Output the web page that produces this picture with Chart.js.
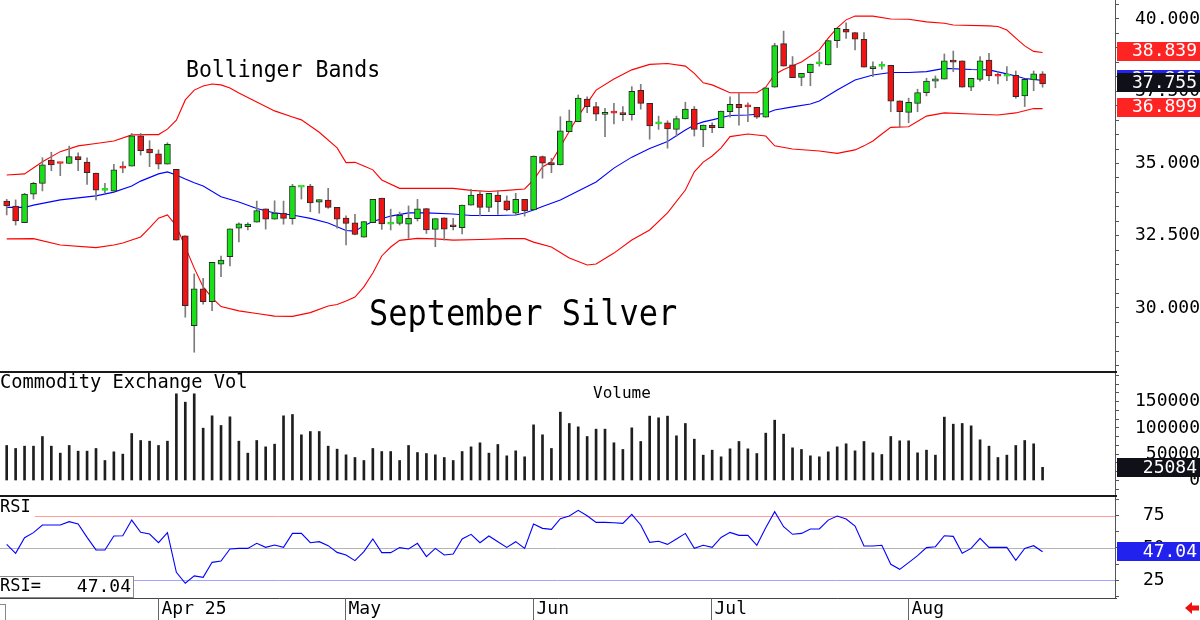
<!DOCTYPE html>
<html><head><meta charset="utf-8">
<script src="https://cdn.jsdelivr.net/npm/chart.js@4.4.1/dist/chart.umd.min.js"></script>
<style>
html,body{margin:0;padding:0;background:#fff;}
#wrap{position:relative;width:1200px;height:620px;overflow:hidden;background:#fff;}
canvas{position:absolute;left:0;display:block;}
</style></head><body>
<div id="wrap">
<canvas id="cP" width="1200" height="371" style="top:0;width:1200px;height:371px"></canvas>
<canvas id="cV" width="1200" height="124" style="top:371px;width:1200px;height:124px"></canvas>
<canvas id="cR" width="1200" height="125" style="top:495px;width:1200px;height:125px"></canvas>
</div>
<script>
// ---------------- DATA ----------------
const opens  = [33.70,33.53,32.95,33.94,34.31,35.12,35.02,35.00,35.24,35.05,34.67,34.07,34.04,34.87,34.91,35.96,35.50,35.33,34.98,34.80,
32.50,29.39,30.66,30.22,31.52,31.78,32.76,32.81,32.97,33.43,33.07,33.28,33.09,34.18,34.22,33.66,33.73,33.48,33.11,32.95,
32.45,32.95,33.80,32.90,32.93,32.90,33.09,33.44,32.72,33.12,32.87,32.78,33.56,33.94,33.48,33.91,33.71,33.28,33.76,33.39,
35.24,35.03,34.95,36.10,36.45,37.23,36.97,36.70,36.76,36.76,36.69,37.53,37.08,36.37,36.41,36.18,36.54,36.88,36.16,36.32,
36.24,36.79,37.05,36.98,36.94,36.60,37.64,39.15,38.41,37.98,38.14,38.45,38.41,39.25,39.64,39.53,39.30,38.28,38.36,38.40,
37.17,36.77,37.08,37.45,37.85,37.92,38.58,38.55,37.64,37.91,38.58,38.04,38.02,38.05,37.34,37.89,38.10];
const highs  = [33.76,33.74,33.97,34.35,35.20,35.39,35.02,35.60,35.37,35.20,34.67,34.31,34.97,35.06,36.04,36.04,35.79,35.47,35.72,34.80,
32.50,31.18,31.03,31.58,31.80,32.74,32.95,32.95,33.70,33.43,33.71,33.70,34.28,34.20,34.28,33.75,34.14,33.48,33.19,33.24,
32.99,33.76,33.80,33.42,33.32,33.53,33.76,33.44,33.09,33.12,33.10,33.56,34.11,34.06,33.97,34.05,33.88,33.97,33.76,35.26,
35.26,35.18,36.62,36.85,37.37,37.31,37.12,36.91,37.08,36.97,37.66,37.74,37.08,36.64,36.48,36.64,37.12,36.97,36.33,36.41,
36.81,37.31,37.43,37.10,36.94,37.62,39.16,39.58,38.70,38.12,38.44,38.85,39.25,39.68,39.87,39.53,39.53,38.52,38.52,38.40,
37.17,37.26,37.57,37.95,38.03,38.79,38.89,38.55,37.95,38.70,38.81,38.18,38.35,38.20,37.91,38.20,38.18];
const lows   = [33.22,32.87,32.95,33.77,34.05,34.75,34.58,35.00,34.75,34.28,33.74,33.99,34.04,34.68,34.91,35.29,34.89,34.81,34.98,32.35,
29.68,28.47,30.13,29.91,31.08,31.46,32.29,32.70,32.97,32.73,33.07,32.90,32.90,33.77,33.33,33.28,33.45,32.76,32.18,32.53,
32.45,32.95,32.72,32.70,32.87,32.41,33.01,32.58,32.12,32.35,32.70,32.56,33.56,33.19,33.33,33.24,33.36,33.22,33.18,33.39,
34.49,34.68,34.95,36.10,36.45,36.76,36.48,35.93,36.37,36.48,36.50,36.88,35.84,36.18,35.53,35.95,36.54,35.95,35.58,36.07,
36.24,36.60,36.33,36.45,36.56,36.60,37.64,38.37,37.97,37.69,37.69,38.37,38.41,39.01,39.33,38.93,38.33,38.00,38.26,36.79,
36.25,36.41,36.79,37.34,37.62,37.92,38.18,37.64,37.52,37.85,37.87,37.75,37.87,37.26,36.97,37.52,37.64];
const closes = [33.53,33.01,33.94,34.31,34.95,34.95,35.00,35.24,35.13,34.68,34.08,34.09,34.78,34.84,35.96,35.44,35.37,34.98,35.66,32.35,
30.08,30.66,30.22,31.58,31.66,32.74,32.91,32.90,33.37,33.07,33.28,33.10,34.22,34.20,33.64,33.75,33.48,33.07,32.93,32.55,
32.99,33.76,32.91,32.92,33.21,33.10,33.43,32.70,33.09,32.73,32.81,33.56,33.91,33.48,33.97,33.68,33.39,33.76,33.37,35.26,
35.01,34.95,36.13,36.47,37.26,36.97,36.71,36.76,36.74,36.69,37.50,37.08,36.30,36.41,36.20,36.55,36.88,36.18,36.33,36.24,
36.81,37.05,36.93,36.96,36.60,37.62,39.08,38.37,37.97,38.12,38.44,38.47,39.25,39.68,39.54,39.30,38.33,38.35,38.38,37.16,
36.79,37.12,37.45,37.85,37.93,38.55,38.51,37.64,37.95,38.55,38.03,38.02,38.05,37.31,37.91,38.10,37.755];

// Bollinger band readings: [bar index, value]
const upperBand = [[0,34.60],[2,34.64],[4,35.06],[6,35.41],[8,35.61],[10,35.69],[12,35.78],[14,35.99],[16,36.00],[17,36.00],[18,36.19],[19,36.50],
[20,37.20],[21,37.54],[22,37.68],[23,37.75],[24,37.72],[25,37.61],[26,37.44],[28,37.13],[30,36.82],[32,36.61],[33,36.51],[35,36.08],[37,35.54],
[38,35.03],[39,35.04],[40,34.91],[41,34.78],[42,34.43],[44,34.14],[47,34.14],[50,34.14],[52,34.07],[54,34.03],[56,34.07],[58,34.12],[59,34.43],
[60,34.88],[61,35.06],[62,35.58],[64,36.64],[66,37.54],[68,37.92],[70,38.24],[72,38.43],[74,38.46],[76,38.37],[77,38.12],[78,37.79],[79,37.72],
[81,37.45],[84,37.45],[85,37.64],[86,38.08],[87,38.25],[89,38.51],[91,38.93],[92,39.34],[93,39.69],[94,39.97],[95,40.10],[97,40.10],[99,40.00],
[101,39.99],[103,39.90],[105,39.85],[106,39.79],[110,39.76],[111,39.74],[112,39.62],[113,39.34],[114,39.07],[115,38.88],[116,38.839]];
const middleBand = [[0,33.48],[2,33.48],[3,33.56],[6,33.74],[10,33.88],[12,34.01],[14,34.22],[15,34.39],[17,34.64],[18,34.71],[19,34.60],
[20,34.46],[21,34.33],[22,34.22],[24,33.85],[26,33.67],[28,33.44],[30,33.29],[32,33.22],[34,33.10],[36,32.94],[38,32.68],[39,32.66],
[40,32.85],[41,32.99],[43,33.18],[45,33.29],[47,33.29],[50,33.25],[52,33.20],[55,33.20],[57,33.22],[58,33.29],[59,33.39],[60,33.51],
[62,33.74],[64,34.05],[66,34.36],[68,34.84],[70,35.22],[72,35.52],[74,35.76],[76,36.16],[77,36.33],[78,36.44],[79,36.51],[81,36.66],
[83,36.68],[85,36.73],[86,36.85],[88,36.96],[90,37.06],[91,37.16],[93,37.54],[95,37.89],[97,38.06],[99,38.15],[101,38.15],[103,38.18],
[105,38.29],[108,38.25],[110,38.24],[112,38.10],[113,38.03],[114,37.94],[115,37.91],[116,37.869]];
const lowerBand = [[0,32.39],[3,32.40],[6,32.18],[10,32.09],[12,32.18],[13,32.25],[15,32.46],[16,32.77],[17,33.11],[18,33.22],[19,32.84],
[20,32.11],[21,31.38],[22,30.73],[23,30.35],[24,30.05],[26,29.90],[28,29.81],[30,29.72],[32,29.71],[34,29.84],[36,30.07],[37,30.12],
[38,30.24],[39,30.38],[40,30.73],[41,31.21],[42,31.80],[43,32.11],[44,32.34],[46,32.41],[48,32.39],[50,32.35],[53,32.37],[56,32.40],
[58,32.40],[59,32.28],[61,32.11],[63,31.73],[65,31.49],[66,31.52],[68,31.90],[70,32.35],[72,32.70],[74,33.29],[76,34.08],[77,34.71],
[78,35.05],[79,35.26],[80,35.54],[81,35.93],[83,36.02],[85,35.95],[86,35.61],[88,35.50],[91,35.43],[93,35.35],[95,35.47],[96,35.61],
[97,35.78],[98,36.02],[99,36.25],[101,36.27],[103,36.64],[105,36.75],[108,36.71],[111,36.68],[113,36.75],[115,36.90],[116,36.899]];

const volumes = [66700,61000,65400,65400,83800,65400,52100,66700,55900,55900,61000,38100,54600,50200,89500,76200,74900,66700,74900,165100,
149200,165100,99700,123200,104800,121300,74900,52100,76200,64100,69200,123200,125700,87000,93300,93300,65400,59700,48900,43800,
38100,61000,55200,55200,38100,66700,53300,51400,48900,43800,38100,55200,64100,71800,52100,68600,47000,56500,45100,106000,
87000,61000,130200,108600,102200,83800,97800,97800,71800,59100,100300,74300,122600,119400,122600,85100,108600,78700,48300,57800,
45100,60300,74300,60300,51400,90200,114900,88300,62200,59100,47000,45100,54600,64100,69900,56500,74300,52700,49500,83800,
75600,75600,52700,57800,48300,120700,107300,108600,104100,77500,65400,43800,48300,66700,76200,69900,25084];

const rsiValues = [52.8,45.9,58.0,61.9,67.8,67.8,67.8,70.4,68.6,58.2,48.5,48.5,59.3,59.5,71.6,62.1,60.8,54.1,61.9,31.2,
22.7,28.4,27.3,38.9,39.9,49.2,49.7,49.7,53.6,50.5,52.3,50.5,61.3,61.3,54.1,54.9,51.8,46.6,44.6,40.2,
47.2,57.0,46.4,46.4,50.3,49.2,53.6,43.3,49.7,44.6,45.4,57.0,60.6,54.1,59.3,54.9,50.5,54.9,49.7,68.6,
65.2,64.4,72.7,74.7,79.1,75.0,69.8,69.8,69.6,69.1,76.0,67.8,54.4,55.2,52.8,57.0,61.3,49.7,52.1,50.5,
58.2,62.1,59.8,59.8,52.1,65.7,78.1,66.5,60.6,61.3,64.7,64.7,71.6,74.7,72.4,67.0,51.5,51.5,52.1,37.4,
33.5,38.7,44.1,50.3,51.0,59.5,59.0,45.9,49.7,57.5,50.5,50.5,50.5,40.5,49.7,51.8,47.04];

const monthTickIndex = [17, 38, 59, 79, 101];
const monthLabels = ['Apr 25', 'May', 'Jun', 'Jul', 'Aug'];
const priceLabelTicks = [30, 32.5, 35, 37.5, 40];
const volumeLabelTicks = [0, 50000, 100000, 150000];
const rsiLabelTicks = [25, 50, 75];
const rsiGuideLevels = [75, 50, 25];

const TITLE_BANDS = 'Bollinger Bands';
const TITLE_MAIN = 'September Silver';
const TITLE_VOL = 'Commodity Exchange Vol';
const TITLE_VOL2 = 'Volume';
const TITLE_RSI = 'RSI';

// ---------------- STYLE / LAYOUT ----------------
const FONT = "'DejaVu Sans Mono', 'Liberation Mono', monospace";
const X_MIN = -0.75, X_MAX = 124.11;
const AXIS_W = 85;
const GREEN = '#19e019', RED = '#f01414';

function fixAxis(s){ s.width = AXIS_W; s.paddingTop = 0; s.paddingBottom = 0; s.paddingLeft = 0; s.paddingRight = 0; }
function text(ctx, s, x, y, size, color, align, sy){
  ctx.save();
  ctx.font = size + 'px ' + FONT; ctx.fillStyle = color; ctx.textAlign = align || 'left'; ctx.textBaseline = 'middle';
  ctx.translate(x, y); ctx.scale(1, sy || 1);
  ctx.fillText(s, 0, 0);
  ctx.restore();
}
function valueBox(ctx, yc, fill, label){
  ctx.fillStyle = fill; ctx.fillRect(1117, Math.round(yc - 9.5), 83, 19);
  text(ctx, label, 1197, yc + 0.5, 18, '#fff', 'right');
}
function isLabel(v, list){ return list.some(t => Math.abs(t - v) < 1e-6); }
function rangeTicks(a, b, step){ const out=[]; const n=Math.round((b-a)/step); for(let k=0;k<=n;k++) out.push({value: a + k*step}); return out; }

const baseOpts = {
  responsive:false, maintainAspectRatio:false, animation:false, devicePixelRatio:1,
  layout:{padding:0},
  plugins:{legend:{display:false}, tooltip:{enabled:false}},
  events:[]
};
const xScale = {type:'linear', min:X_MIN, max:X_MAX, offset:false, display:false};

// ---------------- PRICE ----------------
const bodyData = opens.map((o,i)=>({x:i, y:[o, closes[i]]}));
const bodyColors = opens.map((o,i)=> closes[i] >= o ? GREEN : RED);
const bodyBorders = opens.map((o,i)=> Math.abs(closes[i]-o) < 0.05 ? bodyColors[i] : '#2a2a2a');
const wickData = highs.map((h,i)=>({x:i, y:[lows[i], h]}));
const pts = arr => arr.map(p=>({x:p[0], y:p[1]}));

const pricePlugin = {
  id:'priceOverlay',
  afterDraw(chart){
    const ctx = chart.ctx, ys = chart.scales.y;
    ctx.save();
    text(ctx, TITLE_BANDS, 186, 71, 21.5, '#000', 'left', 1.08);
    text(ctx, TITLE_MAIN, 369, 316, 32, '#000', 'left', 1.12);
    const lastU = upperBand[upperBand.length-1][1];
    const lastM = middleBand[middleBand.length-1][1];
    const lastL = lowerBand[lowerBand.length-1][1];
    const lastC = closes[closes.length-1];
    valueBox(ctx, ys.getPixelForValue(lastM)-1.5, '#2424f0', lastM.toFixed(3));
    valueBox(ctx, ys.getPixelForValue(lastU)-1.5, '#ff2424', lastU.toFixed(3));
    valueBox(ctx, ys.getPixelForValue(lastL)-1.5, '#ff2424', lastL.toFixed(3));
    valueBox(ctx, ys.getPixelForValue(lastC)-1.5, '#101018', lastC.toFixed(3));
    ctx.restore();
  }
};

new Chart(document.getElementById('cP'), {
  type:'bar',
  data:{datasets:[
    {type:'bar', data:bodyData, backgroundColor:bodyColors, borderColor:bodyBorders, borderWidth:1, borderSkipped:false,
     barThickness:6, minBarLength:2, grouped:false, order:0},
    {type:'bar', data:wickData, backgroundColor:'#7c7c7c', borderWidth:0, barThickness:1, grouped:false, order:1},
    {type:'line', data:pts(upperBand), borderColor:'#ff0000', borderWidth:1.1, pointRadius:0, tension:0, fill:false, order:2},
    {type:'line', data:pts(middleBand), borderColor:'#0000ff', borderWidth:1.1, pointRadius:0, tension:0, fill:false, order:2},
    {type:'line', data:pts(lowerBand), borderColor:'#ff0000', borderWidth:1.1, pointRadius:0, tension:0, fill:false, order:2}
  ]},
  options:Object.assign({}, baseOpts, {
    scales:{
      x:xScale,
      y:{position:'right', min:27.820, max:40.657,
        afterBuildTicks:s=>{ s.ticks = rangeTicks(28, 40.5, 0.5); },
        afterFit:fixAxis,
        ticks:{autoSkip:false, crossAlign:'far', padding:13, color:'#000', font:{family:FONT, size:18},
          callback:v=> isLabel(v, priceLabelTicks) ? v.toFixed(3) : ''},
        grid:{drawOnChartArea:false, drawTicks:true, tickLength:4, tickColor:'#555'},
        border:{display:true, color:'#555', width:1}}
    }
  }),
  plugins:[pricePlugin]
});

// ---------------- VOLUME ----------------
const volPlugin = {
  id:'volOverlay',
  afterDraw(chart){
    const ctx = chart.ctx, ys = chart.scales.y;
    ctx.save();
    ctx.fillStyle = '#1a1a1a'; ctx.fillRect(0, 0, 1117, 2);
    text(ctx, TITLE_VOL, 0, 11.5, 18.7, '#000', 'left', 1.05);
    text(ctx, TITLE_VOL2, 593, 23, 16, '#000');
    const lastV = volumes[volumes.length-1];
    valueBox(ctx, ys.getPixelForValue(lastV), '#101018', String(lastV));
    ctx.restore();
  }
};
new Chart(document.getElementById('cV'), {
  type:'bar',
  data:{datasets:[
    {type:'bar', data:volumes.map((v,i)=>({x:i, y:v})), backgroundColor:'#1e1e1e', borderWidth:0, barThickness:2, grouped:false}
  ]},
  options:Object.assign({}, baseOpts, {
    scales:{
      x:xScale,
      y:{position:'right', min:-27620, max:208570,
        afterBuildTicks:s=>{ s.ticks = rangeTicks(-50000/3, 200000, 50000/3); },
        afterFit:fixAxis,
        ticks:{autoSkip:false, crossAlign:'far', padding:13, color:'#000', font:{family:FONT, size:18},
          callback:v=> isLabel(v, volumeLabelTicks) ? String(Math.round(v)) : ''},
        grid:{drawOnChartArea:false, drawTicks:true, tickLength:4, tickColor:'#555'},
        border:{display:true, color:'#555', width:1}}
    }
  }),
  plugins:[volPlugin]
});

// ---------------- RSI ----------------
const rsiPlugin = {
  id:'rsiOverlay',
  beforeDatasetsDraw(chart){
    const ctx = chart.ctx, ys = chart.scales.y, a = chart.chartArea;
    const cols = ['#ff9c9c', '#b4b4b4', '#a4a4ff'];
    ctx.save(); ctx.lineWidth = 1;
    rsiGuideLevels.forEach((lv,k)=>{
      const y = Math.round(ys.getPixelForValue(lv)) + 0.5;
      ctx.strokeStyle = cols[k]; ctx.beginPath(); ctx.moveTo(a.left, y); ctx.lineTo(a.right, y); ctx.stroke();
    });
    ctx.restore();
  },
  afterDraw(chart){
    const ctx = chart.ctx, ys = chart.scales.y, xs = chart.scales.x, a = chart.chartArea;
    ctx.save();
    ctx.fillStyle = '#1a1a1a'; ctx.fillRect(0, 0, 1117, 2);
    ctx.fillStyle = '#fff'; ctx.fillRect(0, 3, 35, 20);
    text(ctx, TITLE_RSI, 0, 13, 17, '#000');
    ctx.fillStyle = '#fff'; ctx.fillRect(0, 81, 134, 21);
    ctx.strokeStyle = '#8a8a8a'; ctx.lineWidth = 1; ctx.strokeRect(-0.5, 81.5, 134, 21);
    const lastR = rsiValues[rsiValues.length-1];
    text(ctx, 'RSI=', 0, 92, 17, '#000');
    text(ctx, lastR.toFixed(2), 131, 92, 18, '#000', 'right');
    const yb = Math.round(a.bottom) + 0.5;
    ctx.strokeStyle = '#444'; ctx.beginPath(); ctx.moveTo(0, yb); ctx.lineTo(1117, yb); ctx.stroke();
    ctx.strokeStyle = '#666';
    monthTickIndex.forEach((ix,k)=>{
      const px = Math.round(xs.getPixelForValue(ix)) - 0.5;
      ctx.beginPath(); ctx.moveTo(px, yb); ctx.lineTo(px, 125); ctx.stroke();
      text(ctx, monthLabels[k], px + 3, 114, 18, '#000');
    });
    ctx.strokeStyle = '#888'; ctx.strokeRect(-10.5, 109.5, 16, 20);
    valueBox(ctx, ys.getPixelForValue(lastR), '#2222ee', lastR.toFixed(2));
    ctx.fillStyle = '#ee1111';
    ctx.beginPath();
    ctx.moveTo(1185, 113); ctx.lineTo(1192, 107); ctx.lineTo(1192, 110.5); ctx.lineTo(1199, 110.5);
    ctx.lineTo(1199, 115.5); ctx.lineTo(1192, 115.5); ctx.lineTo(1192, 119); ctx.closePath(); ctx.fill();
    ctx.restore();
  }
};
new Chart(document.getElementById('cR'), {
  type:'line',
  data:{datasets:[
    {data:rsiValues.map((v,i)=>({x:i, y:v})), borderColor:'#0000ff', borderWidth:1.1, pointRadius:0, tension:0, fill:false}
  ]},
  options:Object.assign({}, baseOpts, {
    layout:{padding:{left:0, right:0, top:0, bottom:22}},
    scales:{
      x:xScale,
      y:{position:'right', min:11.30, max:91.02,
        afterBuildTicks:s=>{ s.ticks = rangeTicks(12.5, 87.5, 12.5); },
        afterFit:fixAxis,
        ticks:{autoSkip:false, crossAlign:'near', padding:24, color:'#000', font:{family:FONT, size:18},
          callback:v=> isLabel(v, rsiLabelTicks) ? String(v) : ''},
        grid:{drawOnChartArea:false, drawTicks:true, tickLength:4, tickColor:'#555'},
        border:{display:true, color:'#555', width:1}}
    }
  }),
  plugins:[rsiPlugin]
});
</script>
</body></html>
